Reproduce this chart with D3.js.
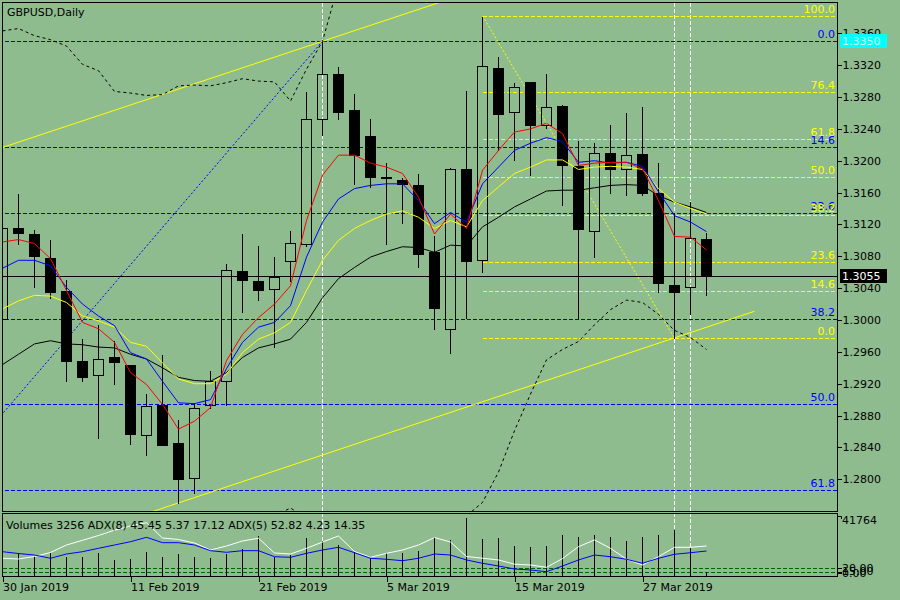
<!DOCTYPE html>
<html>
<head>
<meta charset="utf-8">
<script src="https://cdn.jsdelivr.net/npm/d3@7"></script>
<style>
  body { margin: 0; background: #8fbc8f; }
  text { font-family: "DejaVu Sans", sans-serif; font-size: 11px; }
</style>
</head>
<body>
<svg id="chart" width="900" height="600"></svg>
<script>
// GBPUSD daily bars, 30 Jan - 2 Apr 2019
var dates = ["2019-01-30","2019-01-31","2019-02-01","2019-02-04","2019-02-05","2019-02-06","2019-02-07","2019-02-08",
  "2019-02-11","2019-02-12","2019-02-13","2019-02-14","2019-02-15","2019-02-18","2019-02-19","2019-02-20",
  "2019-02-21","2019-02-22","2019-02-25","2019-02-26","2019-02-27","2019-02-28","2019-03-01","2019-03-04",
  "2019-03-05","2019-03-06","2019-03-07","2019-03-08","2019-03-11","2019-03-12","2019-03-13","2019-03-14",
  "2019-03-15","2019-03-18","2019-03-19","2019-03-20","2019-03-21","2019-03-22","2019-03-25","2019-03-26",
  "2019-03-27","2019-03-28","2019-03-29","2019-04-01","2019-04-02"]

var open  = [1.3001,1.3115,1.3108,1.3078,1.3037,1.2949,1.2931,1.2953,1.2944,1.2856,1.2893,1.2845,1.2802,1.2893,1.2923,1.3062,
  1.3049,1.3039,1.3074,1.3096,1.3253,1.3309,1.3264,1.3231,1.3179,1.3176,1.3170,1.3085,1.2989,1.3189,1.3075,1.3317,
  1.3261,1.3299,1.3245,1.3269,1.3194,1.3112,1.3210,1.3189,1.3208,1.3159,1.3044,1.3041,1.3102]
var high  = [1.3135,1.3159,1.3114,1.3102,1.3052,1.2977,1.2995,1.2975,1.2945,1.2908,1.2957,1.2876,1.2897,1.2937,1.3072,1.3109,
  1.3094,1.3080,1.3113,1.3287,1.3350,1.3319,1.3285,1.3254,1.3198,1.3180,1.3184,1.3107,1.3192,1.3289,1.3382,1.3331,
  1.3299,1.3300,1.3310,1.3271,1.3226,1.3223,1.3246,1.3261,1.3269,1.3198,1.3135,1.3149,1.3111]
var low   = [1.2995,1.3096,1.3041,1.3028,1.2923,1.2923,1.2852,1.2920,1.2844,1.2831,1.2843,1.2770,1.2783,1.2890,1.2893,1.3010,
  1.3025,1.2966,1.3049,1.3093,1.3232,1.3253,1.3171,1.3167,1.3096,1.3122,1.3066,1.2989,1.2959,1.3003,1.3060,1.3213,
  1.3201,1.3182,1.3241,1.3144,1.3002,1.3079,1.3159,1.3157,1.3157,1.3035,1.2977,1.3008,1.3031]
var close = [1.3116,1.3109,1.3080,1.3035,1.2949,1.2929,1.2951,1.2947,1.2857,1.2892,1.2843,1.2801,1.2889,1.2923,1.3063,1.3050,
  1.3038,1.3054,1.3097,1.3252,1.3309,1.3261,1.3207,1.3180,1.3178,1.3171,1.3083,1.3015,1.3190,1.3074,1.3319,1.3259,
  1.3292,1.3245,1.3267,1.3195,1.3114,1.3210,1.3190,1.3207,1.3159,1.3046,1.3035,1.3103,1.3055]

// moving averages (red, blue, yellow, black)
var maRed    = [1.3098,1.3101,1.3096,1.3077,1.3037,1.2997,1.2989,1.2972,1.2934,1.2919,1.2894,1.2863,1.2873,1.2890,1.2949,1.2982,
  1.3003,1.3020,1.3043,1.3125,1.3182,1.3207,1.3207,1.3197,1.3192,1.3184,1.3154,1.3108,1.3133,1.3115,1.3188,1.3213,
  1.3236,1.3240,1.3247,1.3234,1.3194,1.3197,1.3198,1.3198,1.3190,1.3150,1.3105,1.3104,1.3088]
var maBlue   = [1.3065,1.3075,1.3075,1.3068,1.3041,1.3020,1.3005,1.2993,1.2959,1.2951,1.2923,1.2896,1.2895,1.2900,1.2939,1.2972,
  1.2991,1.2997,1.3018,1.3079,1.3123,1.3152,1.3165,1.3169,1.3171,1.3171,1.3150,1.3121,1.3135,1.3123,1.3171,1.3192,
  1.3213,1.3222,1.3229,1.3224,1.3198,1.3200,1.3197,1.3198,1.3193,1.3161,1.3131,1.3123,1.3111]
var maYellow = [1.3014,1.3024,1.3031,1.3030,1.3022,1.3005,1.2999,1.2991,1.2972,1.2967,1.2946,1.2926,1.2920,1.2920,1.2932,1.2959,
  1.2976,1.2984,1.2997,1.3037,1.3075,1.3100,1.3115,1.3125,1.3133,1.3137,1.3129,1.3115,1.3125,1.3117,1.3150,1.3167,
  1.3184,1.3192,1.3201,1.3201,1.3189,1.3192,1.3193,1.3192,1.3189,1.3165,1.3148,1.3140,1.3133]
var maBlack  = [1.2944,1.2957,1.2970,1.2974,1.2970,1.2969,1.2966,1.2965,1.2957,1.2951,1.2940,1.2928,1.2924,1.2923,1.2934,1.2953,
  1.2965,1.2970,1.2976,1.2997,1.3028,1.3052,1.3066,1.3079,1.3086,1.3092,1.3091,1.3085,1.3094,1.3093,1.3117,1.3129,
  1.3142,1.3152,1.3162,1.3163,1.3163,1.3166,1.3169,1.3170,1.3169,1.3156,1.3148,1.3142,1.3135]

// dashed bands, only the parts that show in the window
var bandUpper = [1.3363,1.3366,1.3357,1.3352,1.3344,1.3321,1.3313,1.3287,1.3285,1.3282,1.3283,1.3294,1.3295,1.3294,1.3298,1.3303,
  1.3300,1.3299,1.3275,1.3315,1.3350,1.3422,null,null,null,null,null,null,null,null,null,null,
  null,null,null,null,null,null,null,null,null,null,null,null,null]
var bandLower = [null,null,null,null,null,null,null,null,null,null,null,null,null,null,null,null,
  1.2746,1.2754,1.2764,1.2751,1.2725,null,null,null,null,null,null,null,1.2715,1.2754,1.2771,1.2809,
  1.2861,1.2907,1.2950,1.2963,1.2973,1.2994,1.3013,1.3025,1.3022,1.3007,1.2987,1.2978,1.2963]

// lower window
var volumes = [15000,16070,14160,16280,13660,13660,16490,11330,11820,17200,13660,15570,13240,12950,15570,19110,
  27820,13240,14870,26690,24280,21940,17200,12530,16490,16070,17910,27400,25480,40350,26190,26900,
  21240,20530,21240,28320,27610,28530,27400,24780,27400,28320,31860,19820,3256]
var adx5 = [34.7,33.6,37.3,43.2,54.3,61.2,68.3,76.1,82.3,87.2,64.6,62.4,57.2,46.9,52.8,60.2,
  64.2,42.5,41.0,49.4,58.7,67.6,44.7,36.1,42.0,46.9,54.3,65.3,58.7,37.3,34.8,32.2,
  26.0,24.8,21.4,34.2,51.8,61.7,49.4,33.3,24.8,37.0,50.9,50.9,52.82]
var adx8 = [44.4,41.7,39.5,34.7,41.0,44.4,49.4,54.3,59.1,65.6,57.7,57.7,54.3,45.9,43.5,45.9,
  45.9,37.0,36.1,42.0,46.9,50.9,42.9,34.7,33.2,31.1,34.7,41.0,39.5,32.2,27.3,23.3,
  18.9,17.4,14.9,23.3,32.2,39.5,37.0,33.2,27.3,34.7,40.6,42.9,45.45]
var adxLevels = [20, 15]
var volMax = 41764

// axis labels
var priceTicks = [1.2800,1.2840,1.2880,1.2920,1.2960,1.3000,1.3040,1.3080,1.3120,1.3160,1.3200,1.3240,1.3280,1.3320,1.3360]
var dateTicks = ["2019-01-30","2019-02-11","2019-02-21","2019-03-05","2019-03-15","2019-03-27"]

// drawn objects: [bar index, price]
var fibLevels = [0, 14.6, 23.6, 38.2, 50, 61.8, 76.4, 100]
var fibBlue = [[-19, 1.2438], [20, 1.3350]]
var fibYellow = [[30, 1.3382], [42, 1.2977]]
var channelUpper = [[-1, 1.3210], [29, 1.3410]]
var channelLower = [[9, 1.2757], [47, 1.3011]]
var vLines = [20, 42, 43]
var lastPrice = 1.3055

var svg = d3.select("#chart")
svg.append("rect").attr("width", 900).attr("height", 600).attr("fill", "#8fbc8f")

var x = d3.scaleLinear().domain([0, 40]).range([2.5, 642.5])
var y = d3.scaleLinear().domain([1.2800, 1.3360]).range([479.3, 33.3])
var yVol = d3.scaleLinear().domain([0, volMax]).range([576.5, 516])
var yAdx = d3.scaleLinear().domain([0, 100]).range([581.8, 514])

function py(p) { return Math.round(y(p)) + 0.5 }

var defs = svg.append("defs")
defs.append("clipPath").attr("id", "clipMain").append("rect")
  .attr("x", 3).attr("y", 3).attr("width", 834).attr("height", 508)
defs.append("clipPath").attr("id", "clipLow").append("rect")
  .attr("x", 3).attr("y", 514).attr("width", 834).attr("height", 62)

// vertical dashed lines run through both windows
svg.append("g").selectAll("line").data(vLines).join("line")
  .attr("x1", d => x(d)).attr("x2", d => x(d))
  .attr("y1", 3).attr("y2", 576)
  .attr("stroke", "#fff").attr("stroke-dasharray", "4,2")
  .attr("shape-rendering", "crispEdges")

var main = svg.append("g").attr("clip-path", "url(#clipMain)")

// bid line
main.append("line")
  .attr("x1", 3).attr("x2", 837).attr("y1", py(lastPrice)).attr("y2", py(lastPrice))
  .attr("stroke", "#000").attr("shape-rendering", "crispEdges")

var fibLabels = []
function drawFib(anchors, color) {
  var p1 = anchors[0][1], p2 = anchors[1][1]
  var x0 = x(Math.min(anchors[0][0], anchors[1][0]))
  fibLevels.forEach(function(L) {
    var p = p2 + (p1 - p2) * L / 100
    main.append("line")
      .attr("x1", x0).attr("x2", 837).attr("y1", py(p)).attr("y2", py(p))
      .attr("stroke", color).attr("stroke-dasharray", "4,2")
      .attr("shape-rendering", "crispEdges")
    if (py(p) > 14 && py(p) < 511) fibLabels.push({ y: py(p), text: L.toFixed(1), color: color })
  })
  main.append("line")
    .attr("x1", x(anchors[0][0])).attr("y1", y(p1))
    .attr("x2", x(anchors[1][0])).attr("y2", y(p2))
    .attr("stroke", color).attr("stroke-dasharray", "2,2")
}
drawFib(fibBlue, "#0000ff")
drawFib(fibYellow, "#ffff00")

;[channelUpper, channelLower].forEach(function(c) {
  main.append("line")
    .attr("x1", x(c[0][0])).attr("y1", y(c[0][1]))
    .attr("x2", x(c[1][0])).attr("y2", y(c[1][1]))
    .attr("stroke", "#ffff00")
})

// candles
var bars = dates.map((d, i) => ({ i: i, o: open[i], h: high[i], l: low[i], c: close[i] }))
var candles = main.append("g").attr("shape-rendering", "crispEdges")
candles.selectAll(".wickUp").data(bars).join("line")
  .attr("x1", d => x(d.i)).attr("x2", d => x(d.i))
  .attr("y1", d => py(d.h)).attr("y2", d => py(Math.max(d.o, d.c)))
  .attr("stroke", "#000")
candles.selectAll(".wickDn").data(bars).join("line")
  .attr("x1", d => x(d.i)).attr("x2", d => x(d.i))
  .attr("y1", d => py(Math.min(d.o, d.c))).attr("y2", d => py(d.l))
  .attr("stroke", "#000")
candles.selectAll("rect").data(bars).join("rect")
  .attr("x", d => x(d.i) - 5).attr("width", 10)
  .attr("y", d => py(Math.max(d.o, d.c)))
  .attr("height", d => py(Math.min(d.o, d.c)) - py(Math.max(d.o, d.c)))
  .attr("fill", d => d.c < d.o ? "#000" : "none")
  .attr("stroke", "#000")

// indicators
var line = d3.line().defined(d => d != null).x((d, i) => x(i)).y(d => y(d))
;[[bandUpper, "#000"], [bandLower, "#000"]].forEach(function(s) {
  main.append("path").attr("d", line(s[0])).attr("fill", "none")
    .attr("stroke", s[1]).attr("stroke-dasharray", "3,3")
})
;[[maBlack, "#000"], [maYellow, "#ffff00"], [maBlue, "#0000ff"], [maRed, "#ff0000"]].forEach(function(s) {
  main.append("path").attr("d", line(s[0])).attr("fill", "none").attr("stroke", s[1])
})

main.selectAll(".fibLabel").data(fibLabels).join("text")
  .attr("x", 835).attr("y", d => d.y - 4)
  .attr("text-anchor", "end").attr("fill", d => d.color)
  .text(d => d.text)

main.append("text").attr("x", 7).attr("y", 16).attr("fill", "#000").text("GBPUSD,Daily")

// lower window: volumes + ADX
var lowWin = svg.append("g").attr("clip-path", "url(#clipLow)")
lowWin.selectAll(".lvl").data(adxLevels).join("line")
  .attr("x1", 3).attr("x2", 837)
  .attr("y1", d => Math.round(yAdx(d)) + 0.5).attr("y2", d => Math.round(yAdx(d)) + 0.5)
  .attr("stroke", "#006400").attr("stroke-dasharray", "4,2")
  .attr("shape-rendering", "crispEdges")
lowWin.selectAll(".vol").data(volumes).join("line")
  .attr("x1", (d, i) => x(i)).attr("x2", (d, i) => x(i))
  .attr("y1", yVol(0)).attr("y2", d => yVol(d))
  .attr("stroke", "#000").attr("shape-rendering", "crispEdges")
var adxLine = d3.line().x((d, i) => x(i)).y(d => yAdx(d))
lowWin.append("path").attr("d", adxLine(adx5)).attr("fill", "none").attr("stroke", "#fff")
lowWin.append("path").attr("d", adxLine(adx8)).attr("fill", "none").attr("stroke", "#0000ff")
lowWin.append("text").attr("x", 6).attr("y", 529).attr("fill", "#000")
  .text("Volumes " + volumes[volumes.length - 1] + " ADX(8) 45.45 5.37 17.12 ADX(5) 52.82 4.23 14.35")

// frames
svg.append("rect").attr("x", 2.5).attr("y", 2.5).attr("width", 835).attr("height", 509)
  .attr("fill", "none").attr("stroke", "#000").attr("shape-rendering", "crispEdges")
svg.append("rect").attr("x", 2.5).attr("y", 513.5).attr("width", 835).attr("height", 63)
  .attr("fill", "none").attr("stroke", "#000").attr("shape-rendering", "crispEdges")

// price axis
var yAxis = svg.append("g").attr("transform", "translate(837.5,0)")
  .call(d3.axisRight(y).tickValues(priceTicks).tickFormat(d3.format(".4f")).tickSize(4).tickPadding(1))
yAxis.select(".domain").remove()
yAxis.selectAll("line").attr("stroke", "#000").attr("shape-rendering", "crispEdges")
yAxis.selectAll("text").attr("fill", "#000").style("font-family", "DejaVu Sans").style("font-size", "11px")

// lower window scale labels
var lowAxis = svg.append("g")
lowAxis.append("path").attr("d", "M837.5,516.5H841.5V519").attr("fill", "none").attr("stroke", "#000")
lowAxis.append("text").attr("x", 842).attr("y", 524).text(volMax)
adxLevels.concat([0]).forEach(function(v) {
  var yy = v === 0 ? 573 : yAdx(v)
  lowAxis.append("line").attr("x1", 837.5).attr("x2", 841.5).attr("y1", Math.round(yy) + 0.5).attr("y2", Math.round(yy) + 0.5)
    .attr("stroke", "#000").attr("shape-rendering", "crispEdges")
  lowAxis.append("text").attr("x", 842).attr("y", yy).attr("dy", "0.35em").text(v.toFixed(2))
})

// price boxes
function priceBox(p, bg, fg) {
  svg.append("rect").attr("x", 840).attr("y", Math.round(y(p)) - 7).attr("width", 47).attr("height", 14).attr("fill", bg)
  svg.append("text").attr("x", 842).attr("y", y(p)).attr("dy", "0.36em").attr("fill", fg).text(d3.format(".4f")(p))
}
priceBox(fibBlue[1][1], "#00ffff", "#c8ffff")
priceBox(lastPrice, "#000", "#fff")

// time axis
var parse = d3.timeParse("%Y-%m-%d"), fmt = d3.timeFormat("%-d %b %Y")
var tickIdx = dateTicks.map(d => dates.indexOf(d))
var xAxis = svg.append("g").attr("transform", "translate(0,576.5)")
  .call(d3.axisBottom(x).tickValues(tickIdx).tickSize(5).tickPadding(2).tickFormat(i => fmt(parse(dates[i]))))
xAxis.select(".domain").remove()
xAxis.selectAll("line").attr("stroke", "#000").attr("shape-rendering", "crispEdges")
xAxis.selectAll("text").attr("text-anchor", "start").attr("fill", "#000")
  .style("font-family", "DejaVu Sans").style("font-size", "11px")
</script>
</body>
</html>
